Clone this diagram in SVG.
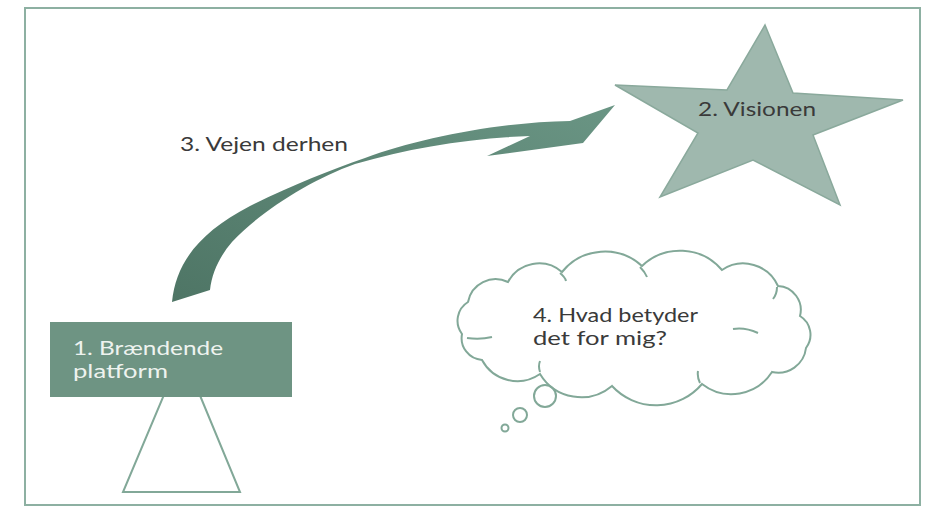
<svg xmlns="http://www.w3.org/2000/svg" width="927" height="513" viewBox="0 0 927 513">
<defs>
<style>
.lbl{font-family:Lato,"Liberation Sans",sans-serif;font-size:18.5px;fill:#3a3a3a}
.wlbl{font-family:Lato,"Liberation Sans",sans-serif;font-size:18.5px;fill:#eef3ef}
.ol{fill:none;stroke:#82a898;stroke-width:2}
</style>
<linearGradient id="ag" x1="0" y1="1" x2="1" y2="0">
<stop offset="0" stop-color="#4e7565"/>
<stop offset="1" stop-color="#6a9584"/>
</linearGradient>
</defs>
<rect x="0" y="0" width="927" height="513" fill="#ffffff"/>
<rect x="25" y="8" width="895" height="497" fill="none" stroke="#8db0a2" stroke-width="2"/>

<g id="connectors">
<path d="M172,302 C176,262 200,232 250,206 C290,186 330,170 365,158 C420,138 500,122 570,121 L615,105 L583,143 L487,156 L530,136 C470,138 410,148 355,164 C310,180 260,212 232,242 C220,256 212,272 210,290 Z" fill="url(#ag)"/>
</g>

<g id="node-platform">
<polygon points="182,352 240,492 123,492" fill="#ffffff" stroke="#82a898" stroke-width="2"/>
<rect x="50" y="322" width="242" height="75" fill="#6e9483"/>
<text class="wlbl" x="73" y="355" textLength="150" lengthAdjust="spacingAndGlyphs">1. Brændende</text>
<text class="wlbl" x="73" y="378" textLength="95" lengthAdjust="spacingAndGlyphs">platform</text>
</g>

<g id="node-vision">
<polygon points="765,25 793,93 903,100 813,135 840,205 753,160 660,197 698,133 615,85 727,90" fill="#9fb8ae" stroke="#8aa99c" stroke-width="1.5"/>
<text class="lbl" x="698" y="116" textLength="118" lengthAdjust="spacingAndGlyphs" fill="#303030">2. Visionen</text>
</g>

<g id="label-road">
<text class="lbl" x="180" y="151" textLength="168" lengthAdjust="spacingAndGlyphs">3. Vejen derhen</text>
</g>

<g id="node-thought">
<path class="ol" fill="#ffffff" d="M468,302 A28,28 0 0 1 508,282 A35,35 0 0 1 562,272 A55,55 0 0 1 642,266 A55,55 0 0 1 722,270 A38,38 0 0 1 778,286 A24,24 0 0 1 800,316 A22,22 0 0 1 806,348 A28,28 0 0 1 772,372 A48,48 0 0 1 702,384 A60,60 0 0 1 612,386 A48,48 0 0 1 540,374 A40,40 0 0 1 482,360 A22,22 0 0 1 462,334 A22,22 0 0 1 468,302 Z"/>
<path class="ol" d="M467,338 Q480,340 492,337 M733,329 Q745,327 758,333 M540,372 Q538,366 540,361 M700,383 Q697,377 698,371 M777,287 Q777,294 773,299 M640,267 Q645,272 647,277 M560,273 Q565,277 566,281"/>
<circle class="ol" cx="545" cy="396" r="11" fill="#ffffff"/>
<circle class="ol" cx="520" cy="415" r="7" fill="#ffffff"/>
<circle class="ol" cx="505" cy="428" r="3.5" fill="#ffffff"/>
<text class="lbl" x="533" y="322" textLength="165" lengthAdjust="spacingAndGlyphs">4. Hvad betyder</text>
<text class="lbl" x="533" y="345" textLength="134" lengthAdjust="spacingAndGlyphs">det for mig?</text>
</g>
</svg>
